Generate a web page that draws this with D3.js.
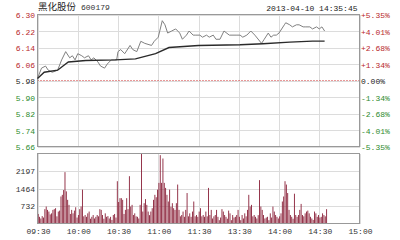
<!DOCTYPE html>
<html><head><meta charset="utf-8">
<script src="https://cdn.jsdelivr.net/npm/d3@7"></script>
<style>
html,body{margin:0;padding:0;background:#fff;}
svg{display:block;}
text{font-family:"Liberation Mono","DejaVu Sans Mono",monospace;}
</style></head>
<body>
<svg id="c" width="400" height="240"></svg>
<script>
// ---- data ----
const stockName = "黑化股份";
const stockCode = "600179";
const stamp = "2013-04-10 14:35:45";
const preClose = 5.98;
const priceTicks = [6.30, 6.22, 6.14, 6.06, 5.98, 5.90, 5.82, 5.74, 5.66];
const pctLabels = ["+5.35%", "+4.01%", "+2.68%", "+1.34%", "0.00%", "-1.34%", "-2.68%", "-4.01%", "-5.35%"];
const timeTicks = [0, 30, 60, 90, 120, 150, 180, 210, 240];
const timeLabels = ["09:30", "10:00", "10:30", "11:00", "11:30", "13:30", "14:00", "14:30", "15:00"];
const volTicks = [732, 1464, 2197];
const volMax = 2929;
// price line: minute index (0 = 09:30, 120 = 11:30/13:00) and price
const priceTimes = [0,3,6,8,11,15,18,21,24,26,28,30,33,35,38,40,42,45,47,50,52,55,59,60,62,65,69,71,74,77,80,85,87,90,93,95,97,100,103,106,108,111,113,116,118,121,123,126,128,131,133,136,139,143,148,151,153,156,159,162,167,169,172,174,176,178,180,184,185,188,190,193,195,198,200,203,205,208,210,212,214];
const priceValues = [5.99,6.04,6.05,6.03,6.02,6.03,6.08,6.12,6.09,6.10,6.08,6.11,6.10,6.09,6.10,6.08,6.09,6.07,6.05,6.04,6.06,6.08,6.08,6.12,6.13,6.11,6.15,6.13,6.12,6.17,6.16,6.15,6.17,6.19,6.27,6.25,6.21,6.22,6.23,6.21,6.18,6.20,6.22,6.20,6.20,6.20,6.19,6.20,6.19,6.20,6.18,6.18,6.22,6.20,6.20,6.20,6.19,6.20,6.22,6.20,6.16,6.18,6.21,6.19,6.20,6.20,6.21,6.25,6.26,6.25,6.24,6.25,6.25,6.24,6.24,6.24,6.23,6.24,6.23,6.24,6.22];
// average price line
const avgTimes = [0,5,15,19,23,36,58,73,88,98,120,151,168,188,205,214];
const avgValues = [5.99,6.02,6.03,6.05,6.07,6.077,6.08,6.085,6.11,6.14,6.15,6.153,6.158,6.166,6.171,6.171];
// volume per minute (index 0..215)
const volumes = [400,280,210,310,250,600,710,570,500,380,425,570,600,640,300,500,540,1130,1200,1400,2150,1345,990,780,400,570,425,540,680,250,
355,600,710,1417,300,355,280,425,500,200,280,355,210,280,355,300,600,570,355,200,425,280,310,210,280,150,355,400,250,1770,
900,1060,1060,990,400,570,1060,600,1980,710,780,355,425,300,280,210,780,2929,500,850,1020,780,500,350,500,640,990,1200,1100,1417,
1700,2860,1700,2720,1700,1490,1200,920,1417,700,850,640,570,850,1630,570,300,355,500,280,570,1275,300,425,280,500,920,300,355,280,
500,640,300,355,280,500,300,1490,355,570,210,300,355,570,280,140,250,600,500,355,280,200,540,425,140,355,250,280,355,570,
280,140,355,210,425,300,570,1200,710,780,300,355,280,210,350,1815,710,570,355,210,250,280,140,425,250,710,500,355,280,210,
300,425,920,1130,1770,1630,1275,570,355,280,200,1247,355,280,355,570,820,355,300,425,500,540,425,280,210,150,500,425,280,355,
250,280,425,355,300,600];

// ---- layout ----
const svg = d3.select("#c");
const L = 37.5, R = 359.5, PT = 14.5, PB = 146.5, VT = 153.5, VB = 223.5;
const x = d3.scaleLinear().domain([0, 240]).range([L, R]);
const yP = d3.scaleLinear().domain([5.66, 6.30]).range([PB, PT]);
const yV = d3.scaleLinear().domain([0, volMax]).range([VB, VT]);
const gridC = "#dcdcdc", frameC = "#999", red = "#b8282c", green = "#2e8b2e", dark = "#222";
const colorFor = i => i < 4 ? red : (i === 4 ? dark : green);

// gridlines via axes
const gx = svg.append("g").attr("transform", `translate(0,${PB})`)
  .call(d3.axisBottom(x).tickValues(timeTicks).tickSize(-(PB - PT)).tickFormat(""));
const gx2 = svg.append("g").attr("transform", `translate(0,${VB})`)
  .call(d3.axisBottom(x).tickValues(timeTicks).tickSize(-(VB - VT)).tickFormat(""));
const gy = svg.append("g").attr("transform", `translate(${L},0)`)
  .call(d3.axisLeft(yP).tickValues(priceTicks).tickSize(-(R - L)).tickFormat(""));
const gv = svg.append("g").attr("transform", `translate(${L},0)`)
  .call(d3.axisLeft(yV).tickValues(volTicks).tickSize(-(R - L)).tickFormat(""));
[gx, gx2, gy, gv].forEach(g => {
  g.select(".domain").remove();
  g.selectAll(".tick line").attr("stroke", gridC).attr("shape-rendering", "crispEdges");
});

// volume bars
svg.append("g").selectAll("rect").data(volumes).join("rect")
  .attr("x", (d, i) => x(i) + 0.2).attr("width", 0.9)
  .attr("y", d => yV(d)).attr("height", d => yV(0) - yV(d))
  .attr("fill", "#8a2139");

// pre-close dotted line
svg.append("line").attr("x1", L).attr("x2", R)
  .attr("y1", Math.round(yP(preClose)) + 0.5).attr("y2", Math.round(yP(preClose)) + 0.5)
  .attr("stroke", "#d03030").attr("stroke-width", 1).attr("stroke-dasharray", "1,2");

// frames
svg.append("rect").attr("x", L).attr("y", PT).attr("width", R - L).attr("height", PB - PT)
  .attr("fill", "none").attr("stroke", frameC).attr("shape-rendering", "crispEdges");
svg.append("rect").attr("x", L).attr("y", VT).attr("width", R - L).attr("height", VB - VT)
  .attr("fill", "none").attr("stroke", frameC).attr("shape-rendering", "crispEdges");

// lines
const avgPts = avgTimes.map((t, i) => [t, avgValues[i]]);
const pricePts = priceTimes.map((t, i) => [t, priceValues[i]]);
const line = d3.line().x(d => x(d[0])).y(d => yP(d[1]));
svg.append("path").attr("d", line(pricePts)).attr("fill", "none")
  .attr("stroke", "#808080").attr("stroke-width", 1);
svg.append("path").attr("d", line(avgPts)).attr("fill", "none")
  .attr("stroke", "#2a2a2a").attr("stroke-width", 1.4);

// left price labels
svg.append("g").selectAll("text").data(priceTicks).join("text")
  .attr("x", 35).attr("y", d => yP(d) + 1.5).attr("text-anchor", "end")
  .attr("dominant-baseline", "middle").attr("font-size", 8)
  .attr("fill", (d, i) => colorFor(i)).text(d => d.toFixed(2));
// right pct labels
svg.append("g").selectAll("text").data(pctLabels).join("text")
  .attr("x", 361).attr("y", (d, i) => yP(priceTicks[i]) + 1.5)
  .attr("dominant-baseline", "middle").attr("font-size", 8)
  .attr("fill", (d, i) => colorFor(i)).text(d => d);
// volume labels
svg.append("g").selectAll("text").data(volTicks).join("text")
  .attr("x", 35).attr("y", d => yV(d) + 1).attr("text-anchor", "end")
  .attr("dominant-baseline", "middle").attr("font-size", 8).attr("fill", "#333")
  .text(d => d);
// time labels
svg.append("g").selectAll("text").data(timeTicks).join("text")
  .attr("x", d => x(d) + 1).attr("y", 232).attr("text-anchor", "middle")
  .attr("dominant-baseline", "middle").attr("font-size", 8).attr("fill", "#333")
  .text((d, i) => timeLabels[i]);

// header
svg.append("text").attr("x", 38).attr("y", 7).attr("dominant-baseline", "middle")
  .attr("font-size", 9.5).attr("fill", "#222")
  .style("font-family", '"Noto Sans CJK SC", sans-serif').text(stockName);
svg.append("text").attr("x", 81).attr("y", 7.5).attr("dominant-baseline", "middle")
  .attr("font-size", 8).attr("fill", "#333").text(stockCode);
svg.append("text").attr("x", 357.5).attr("y", 9).attr("text-anchor", "end")
  .attr("dominant-baseline", "middle").attr("font-size", 8).attr("fill", "#222").text(stamp);
</script>
</body></html>
